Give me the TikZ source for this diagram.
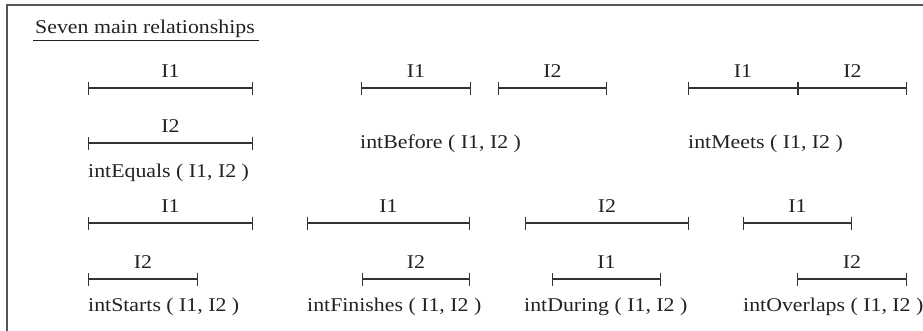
\documentclass[tikz,border=0pt]{standalone}
\usepackage{fontspec}
\setmainfont{Liberation Serif}[FakeStretch=1.12]
\usetikzlibrary{arrows.meta}
\definecolor{ink}{HTML}{222222}
\definecolor{linec}{HTML}{333333}
\definecolor{framec}{HTML}{555555}
\tikzset{
  every node/.style={font=\fontsize{19.5}{22}\selectfont, text=ink, inner sep=0pt},
  iv/.style={draw=linec, line width=1.3pt,
    {Bar[width=13pt,line width=1.3pt]}-{Bar[width=13pt,line width=1.3pt]}},
  ivlbl/.style={midway, anchor=base, yshift=11pt},
  rel/.style={anchor=base west},
}
\begin{document}
\begin{tikzpicture}[x=1pt,y=-1pt]
\useasboundingbox (0,0) rectangle (923,330);
% frame (cut off at right and bottom)
\draw[framec, line width=2pt] (7,335) -- (7,5) -- (930,5);
% title
\node[rel] (title) at (35,33) {Seven main relationships};
\draw[ink, line width=1pt] (33,40) -- (259,40);

% intEquals
\coordinate (a1s) at (88,88);  \coordinate (a1e) at (253,88);
\coordinate (a2s) at (88,143); \coordinate (a2e) at (253,143);
\draw[iv] (a1s) -- node[ivlbl] (a1l) {I1} (a1e);
\draw[iv] (a2s) -- node[ivlbl] (a2l) {I2} (a2e);
\node[rel] (aeq) at (88,177) {intEquals ( I1, I2 )};

% intBefore
\coordinate (b1s) at (361,88); \coordinate (b1e) at (471,88);
\coordinate (b2s) at (498,88); \coordinate (b2e) at (607,88);
\draw[iv] (b1s) -- node[ivlbl] (b1l) {I1} (b1e);
\draw[iv] (b2s) -- node[ivlbl] (b2l) {I2} (b2e);
\node[rel] (bbef) at (360,148) {intBefore ( I1, I2 )};

% intMeets
\coordinate (c1s) at (688,88); \coordinate (c1e) at (798,88);
\coordinate (c2e) at (907,88);
\draw[iv] (c1s) -- node[ivlbl] (c1l) {I1} (c1e);
\draw[iv] (c1e) -- node[ivlbl] (c2l) {I2} (c2e);
\node[rel] (cmeet) at (688,148) {intMeets ( I1, I2 )};

% intStarts
\coordinate (d1s) at (88,223);  \coordinate (d1e) at (253,223);
\coordinate (d2s) at (88,279);  \coordinate (d2e) at (198,279);
\draw[iv] (d1s) -- node[ivlbl] (d1l) {I1} (d1e);
\draw[iv] (d2s) -- node[ivlbl] (d2l) {I2} (d2e);
\node[rel] (dsta) at (88,311) {intStarts ( I1, I2 )};

% intFinishes
\coordinate (e1s) at (307,223); \coordinate (e1e) at (470,223);
\coordinate (e2s) at (362,279); \coordinate (e2e) at (470,279);
\draw[iv] (e1s) -- node[ivlbl] (e1l) {I1} (e1e);
\draw[iv] (e2s) -- node[ivlbl] (e2l) {I2} (e2e);
\node[rel] (efin) at (307,311) {intFinishes ( I1, I2 )};

% intDuring
\coordinate (f1s) at (525,223); \coordinate (f1e) at (689,223);
\coordinate (f2s) at (552,279); \coordinate (f2e) at (661,279);
\draw[iv] (f1s) -- node[ivlbl] (f1l) {I2} (f1e);
\draw[iv] (f2s) -- node[ivlbl] (f2l) {I1} (f2e);
\node[rel] (fdur) at (524,311) {intDuring ( I1, I2 )};

% intOverlaps
\coordinate (g1s) at (743,223); \coordinate (g1e) at (852,223);
\coordinate (g2s) at (797,279); \coordinate (g2e) at (907,279);
\draw[iv] (g1s) -- node[ivlbl] (g1l) {I1} (g1e);
\draw[iv] (g2s) -- node[ivlbl] (g2l) {I2} (g2e);
\node[rel] (govl) at (743,311) {intOverlaps ( I1, I2 )};
\end{tikzpicture}
\end{document}
